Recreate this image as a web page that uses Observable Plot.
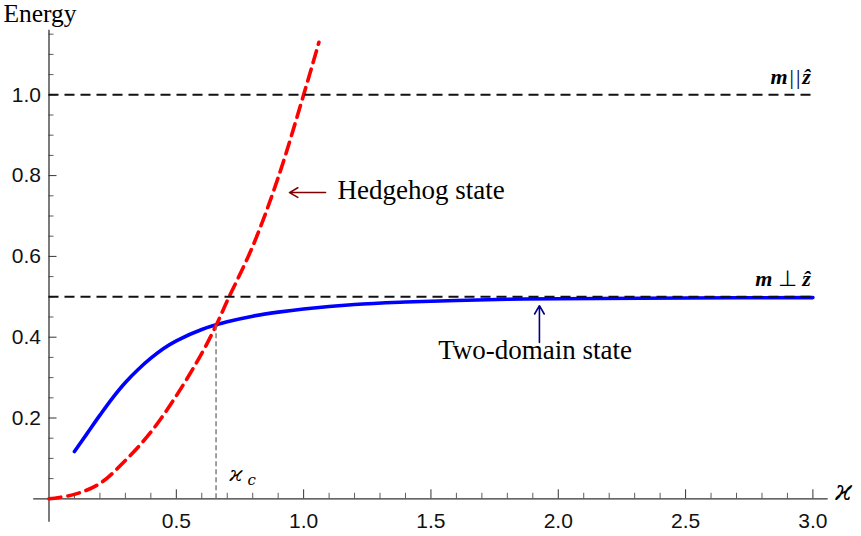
<!DOCTYPE html>
<html><head><meta charset="utf-8">
<script src="https://cdn.jsdelivr.net/npm/d3@7"></script>
<script src="https://cdn.jsdelivr.net/npm/@observablehq/plot@0.6"></script>
<style>html,body{margin:0;padding:0;background:#fff}#chart{width:861px;height:536px}</style>
</head><body><div id="chart"></div>
<script>
// ---- data ----
const hedgehogX = [0, 0.1, 0.2, 0.3, 0.4, 0.5, 0.6, 0.656, 0.7, 0.8, 0.9, 1.0, 1.06];
const hedgehogY = [0, 0.011, 0.038, 0.095, 0.165, 0.255, 0.36, 0.429, 0.49, 0.625, 0.795, 1.0, 1.13];
const twoDomainX = [0.1, 0.15, 0.2, 0.25, 0.3, 0.35, 0.4, 0.45, 0.5, 0.6, 0.7, 0.8, 0.9, 1.0, 1.2, 1.4, 1.6, 1.8, 2.0, 2.5, 3.0];
const twoDomainY = [0.117, 0.162, 0.207, 0.25, 0.288, 0.32, 0.348, 0.372, 0.391, 0.419, 0.438, 0.452, 0.462, 0.47, 0.481, 0.487, 0.491, 0.494, 0.495, 0.497, 0.498];
const levelEnergies = [1.0, 0.5];              // m||z and m⊥z
const levelLabels = ["m||ẑ", "m ⊥ ẑ"];
const kappaC = 0.656, kappaCEnergy = 0.431;
const xMajorTicks = [0.5, 1.0, 1.5, 2.0, 2.5, 3.0];
const xTickLabels = ["0.5", "1.0", "1.5", "2.0", "2.5", "3.0"];
const yMajorTicks = [0.2, 0.4, 0.6, 0.8, 1.0];
const yTickLabels = ["0.2", "0.4", "0.6", "0.8", "1.0"];
const xMinorTicks = d3.range(1, 31).map(i => i / 10).filter(v => Math.abs(v * 2 - Math.round(v * 2)) > 1e-6);
const yMinorTicks = d3.range(1, 24).map(i => i * 0.05).filter(v => Math.abs(v * 5 - Math.round(v * 5)) > 1e-6);

const hedgehog = hedgehogX.map((x, i) => ({x, y: hedgehogY[i]}));
const twoDomain = twoDomainX.map((x, i) => ({x, y: twoDomainY[i]}));

// ---- geometry ----
const W = 861, H = 536, ml = 48.5, mr = 48.6, mt = 94.3, mb = 37.7;
const pxX = (W - ml - mr) / 3, pxY = (H - mt - mb) / 1;
const axisColor = "#333";
const serif = "Liberation Serif, Times New Roman, serif";
const sans = "Liberation Sans, Arial, sans-serif";

const chart = Plot.plot({
  width: W, height: H,
  marginLeft: ml, marginRight: mr, marginTop: mt, marginBottom: mb,
  x: {domain: [0, 3], axis: null},
  y: {domain: [0, 1], axis: null},
  style: {background: "#fff", overflow: "visible", fontFamily: sans},
  marks: [
    // axes
    Plot.ruleY([0], {x1: -0.06, x2: 3.06, stroke: axisColor, strokeWidth: 1.3}),
    Plot.ruleX([0], {y1: -0.058, y2: 1.16, stroke: axisColor, strokeWidth: 1.3}),
    Plot.ruleX(xMajorTicks, {x: d => d, y1: 0, y2: 9 / pxY, stroke: axisColor, strokeWidth: 1}),
    Plot.ruleX(xMinorTicks, {x: d => d, y1: 0, y2: 5.5 / pxY, stroke: axisColor, strokeWidth: 0.8}),
    Plot.ruleY(yMajorTicks, {y: d => d, x1: 0, x2: 8 / pxX, stroke: axisColor, strokeWidth: 1}),
    Plot.ruleY(yMinorTicks, {y: d => d, x1: 0, x2: 5 / pxX, stroke: axisColor, strokeWidth: 0.8}),
    Plot.text(xMajorTicks, {x: d => d, y: 0, text: (d, i) => xTickLabels[i], dy: 22, fontSize: 21, fill: "#111", fontFamily: sans}),
    Plot.text(yMajorTicks, {x: 0, y: d => d, text: (d, i) => yTickLabels[i], dx: -8, textAnchor: "end", fontSize: 21, fill: "#111", fontFamily: sans}),
    // curves
    Plot.line(twoDomain, {x: "x", y: "y", stroke: "#0000ff", strokeWidth: 3.6, curve: "catmull-rom"}),
    Plot.line(hedgehog, {x: "x", y: "y", stroke: "#ff0000", strokeWidth: 3.6, strokeDasharray: "12,7", curve: "catmull-rom"}),
    Plot.ruleY(levelEnergies, {y: d => d, x1: 0, x2: 3, stroke: "#111", strokeWidth: 2, strokeDasharray: "10,6"}),
    Plot.ruleX([kappaC], {x: d => d, y1: 0, y2: kappaCEnergy, stroke: "#777", strokeWidth: 1.4, strokeDasharray: "5,3"}),
    // level labels
    Plot.text(levelEnergies, {x: 3, y: d => d, text: (d, i) => levelLabels[i], textAnchor: "end", lineAnchor: "bottom", dx: -2, dy: -11, fontSize: 22, fontFamily: serif, fill: "#000"}),
    // annotations
    Plot.arrow([{x1: 1.086, x2: 0.9445, y: 0.758}], {x1: "x1", x2: "x2", y1: "y", y2: "y", stroke: "#800000", strokeWidth: 1.6, headLength: 9}),
    Plot.arrow([{x: 1.926, y1: 0.387, y2: 0.478}], {x1: "x", x2: "x", y1: "y1", y2: "y2", stroke: "#00007f", strokeWidth: 1.6, headLength: 9}),
    Plot.text(["Hedgehog state"], {x: 1.133, y: 0.741, text: d => d, textAnchor: "start", lineAnchor: "bottom", fontSize: 27, fontFamily: serif, fill: "#000"}),
    Plot.text(["Two-domain state"], {x: 1.909, y: 0.347, text: d => d, textAnchor: "middle", lineAnchor: "bottom", fontSize: 27, fontFamily: serif, fill: "#000"}),
    Plot.text(["Energy"], {x: -0.179, y: 1.179, text: d => d, textAnchor: "start", lineAnchor: "bottom", fontSize: 25.5, fontFamily: serif, fill: "#000"}),
    Plot.text(["ϰ"], {x: 0.709, y: 0.045, text: d => d, textAnchor: "start", lineAnchor: "bottom", fontSize: 21, fontStyle: "italic", fontFamily: "DejaVu Serif, serif", fill: "#000"}),
    Plot.text(["c"], {x: 0.78, y: 0.033, text: d => d, textAnchor: "start", lineAnchor: "bottom", fontSize: 15, fontStyle: "italic", fontFamily: "DejaVu Serif, serif", fill: "#000"}),
    Plot.text(["ϰ"], {x: 3.088, y: -0.004, text: d => d, textAnchor: "start", lineAnchor: "bottom", fontSize: 27, fontStyle: "italic", fontFamily: "DejaVu Serif, serif", fill: "#000"})
  ]
});

// style math labels: bold italic m and ẑ, upright operators
d3.select(chart).selectAll("text").each(function () {
  const t = this.textContent;
  if (levelLabels.includes(t)) {
    const parts = t === "m||ẑ"
      ? [["m", true, 0], ["|", false, 2], ["|", false, 2], ["ẑ", true, 2]]
      : [["m", true, 0], [" ⊥ ", false, 0], ["ẑ", true, 0]];
    const sel = d3.select(this);
    sel.text("");
    parts.forEach(([s, b, dx]) => {
      sel.append("tspan").text(s)
        .attr("dx", dx)
        .attr("font-weight", b ? "bold" : "normal")
        .attr("font-style", b ? "italic" : "normal");
    });
  }
});
document.getElementById("chart").appendChild(chart);
</script>
</body></html>
